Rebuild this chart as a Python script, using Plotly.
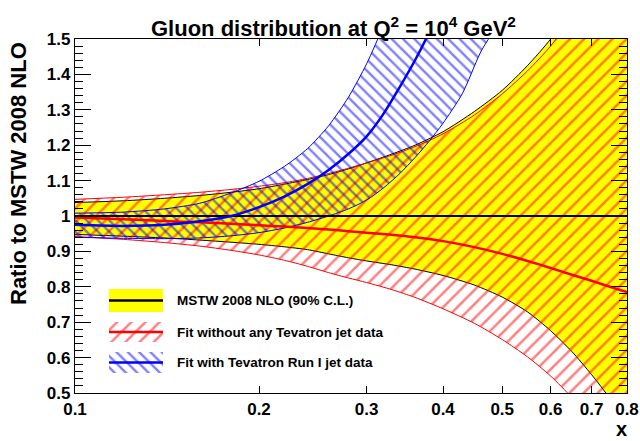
import plotly.graph_objects as go

# ---------------- data ----------------
x_grid = [0.10, 0.12, 0.14, 0.16, 0.18, 0.20, 0.22, 0.24, 0.26, 0.28, 0.30,
          0.33, 0.36, 0.40, 0.45, 0.50, 0.55, 0.60, 0.65, 0.70, 0.75, 0.80]

mstw_central = [1.0] * len(x_grid)
mstw_upper = [1.038, 1.043, 1.050, 1.058, 1.067, 1.077, 1.090, 1.103, 1.117, 1.133, 1.150,
              1.175, 1.200, 1.238, 1.295, 1.355, 1.425, 1.500, 1.590, 1.700, 1.820, 1.960]
mstw_lower = [0.948, 0.943, 0.938, 0.932, 0.926, 0.920, 0.913, 0.905, 0.893, 0.882, 0.873,
              0.862, 0.850, 0.832, 0.805, 0.771, 0.729, 0.676, 0.617, 0.552, 0.485, 0.415]

nojet_upper = [1.047, 1.053, 1.060, 1.067, 1.075, 1.084, 1.094, 1.106, 1.120, 1.135, 1.150,
               1.172, 1.196, 1.232, 1.285, 1.345, 1.410, 1.480, 1.565, 1.660, 1.770, 1.890]
nojet_central = [0.996, 0.991, 0.986, 0.982, 0.978, 0.974, 0.970, 0.966, 0.962, 0.957, 0.953,
                 0.947, 0.940, 0.929, 0.912, 0.893, 0.873, 0.853, 0.834, 0.817, 0.800, 0.785]
nojet_lower = [0.942, 0.934, 0.925, 0.915, 0.903, 0.890, 0.875, 0.858, 0.840, 0.825, 0.812,
               0.792, 0.770, 0.738, 0.697, 0.651, 0.602, 0.548, 0.487, 0.420, 0.345, 0.260]

run1_x = [0.10, 0.12, 0.14, 0.16, 0.18, 0.20, 0.22, 0.24, 0.26, 0.28, 0.30,
          0.32, 0.34, 0.36, 0.38, 0.40, 0.43, 0.46, 0.50]
run1_upper = [1.008, 1.011, 1.020, 1.036, 1.065, 1.098, 1.140, 1.190, 1.255, 1.335, 1.430,
              1.540, 1.660, 1.790, 1.930, 2.080, 2.300, 2.550, 2.900]
run1_central = [0.975, 0.972, 0.975, 0.985, 1.000, 1.025, 1.055, 1.090, 1.130, 1.175, 1.225,
                1.290, 1.365, 1.440, 1.520, 1.610, 1.750, 1.900, 2.100]
run1_lower = [0.940, 0.937, 0.936, 0.938, 0.944, 0.953, 0.966, 0.982, 1.000, 1.020, 1.045,
              1.080, 1.120, 1.165, 1.212, 1.262, 1.345, 1.460, 1.580]

x_ticks = [0.1, 0.2, 0.3, 0.4, 0.5, 0.6, 0.7, 0.8]
x_tick_labels = ["0.1", "0.2", "0.3", "0.4", "0.5", "0.6", "0.7", "0.8"]
y_ticks = [0.5, 0.6, 0.7, 0.8, 0.9, 1.0, 1.1, 1.2, 1.3, 1.4, 1.5]
y_tick_labels = ["0.5", "0.6", "0.7", "0.8", "0.9", "1", "1.1", "1.2", "1.3", "1.4", "1.5"]

legend_labels = ["MSTW 2008 NLO (90% C.L.)",
                 "Fit without any Tevatron jet data",
                 "Fit with Tevatron Run I jet data"]

# ---------------- styles ----------------
FONT = "Liberation Sans, Arial, Helvetica, sans-serif"
YELLOW = "#ffff00"
RED = "#ff0000"
BLUE = "#0000ff"
CLEAR = "rgba(0,0,0,0)"
RED_HATCH = dict(shape="/", fgcolor=RED, bgcolor=CLEAR, size=10, solidity=0.25)
BLUE_HATCH = dict(shape="\\", fgcolor=BLUE, bgcolor=CLEAR, size=8, solidity=0.3)

W, H = 640, 441
ML, MR, MT, MB = 75, 13, 39, 48
PW, PH = W - ML - MR, H - MT - MB


def px(xp):
    return (xp - ML) / PW


def py(yp):
    return (H - MB - yp) / PH


def band(xs, up, lo):
    return list(xs) + list(xs)[::-1], list(up) + list(lo)[::-1]


SPL = dict(shape="spline", smoothing=0.7)

fig = go.Figure()

bx, by = band(x_grid, mstw_upper, mstw_lower)
fig.add_trace(go.Scatter(x=bx, y=by, mode="lines", fill="toself", fillcolor=YELLOW,
                         line=dict(color="black", width=1, **SPL), hoverinfo="skip"))

bx, by = band(x_grid, nojet_upper, nojet_lower)
fig.add_trace(go.Scatter(x=bx, y=by, mode="lines", fill="toself", fillcolor=CLEAR,
                         fillpattern=RED_HATCH,
                         line=dict(color=RED, width=1, **SPL), hoverinfo="skip"))

bx, by = band(run1_x, run1_upper, run1_lower)
fig.add_trace(go.Scatter(x=bx, y=by, mode="lines", fill="toself", fillcolor=CLEAR,
                         fillpattern=BLUE_HATCH,
                         line=dict(color=BLUE, width=1, **SPL), hoverinfo="skip"))

fig.add_trace(go.Scatter(x=x_grid, y=mstw_central, mode="lines",
                         line=dict(color="black", width=2)))
fig.add_trace(go.Scatter(x=x_grid, y=nojet_central, mode="lines",
                         line=dict(color=RED, width=2.5, **SPL)))
fig.add_trace(go.Scatter(x=run1_x, y=run1_central, mode="lines",
                         line=dict(color=BLUE, width=2.5, **SPL)))

# ---------------- legend (drawn on a pixel-like overlay axis) ----------------
L_X0, L_X1 = 109, 163
rows = [(289, 312), (322, 342), (352, 373)]
fills = [dict(fillcolor=YELLOW), dict(fillcolor=CLEAR, fillpattern=RED_HATCH),
         dict(fillcolor=CLEAR, fillpattern=BLUE_HATCH)]
for (r0, r1), fk in zip(rows, fills):
    fig.add_trace(go.Scatter(x=[L_X0, L_X1, L_X1, L_X0, L_X0], y=[r0, r0, r1, r1, r0],
                             mode="lines", fill="toself", line=dict(width=0, color=CLEAR),
                             xaxis="x2", yaxis="y2", **fk))
for (r0, r1), col in zip(rows, ["black", RED, BLUE]):
    ym = (r0 + r1) / 2
    fig.add_trace(go.Scatter(x=[L_X0, L_X1], y=[ym, ym], mode="lines",
                             line=dict(color=col, width=2.5), xaxis="x2", yaxis="y2"))

annotations = []
for (r0, r1), txt in zip(rows, legend_labels):
    ym = (r0 + r1) / 2
    annotations.append(dict(x=px(175), y=py(ym), xref="paper", yref="paper", text=txt,
                            showarrow=False, xanchor="left", yanchor="middle",
                            font=dict(family=FONT, size=13.5, color="black", weight="bold")))

annotations.append(dict(x=px(333), y=py(27), xref="paper", yref="paper",
                        text="Gluon distribution at Q<sup>2</sup> = 10<sup>4</sup> GeV<sup>2</sup>",
                        showarrow=False, xanchor="center", yanchor="middle",
                        font=dict(family=FONT, size=22, color="black", weight="bold")))
annotations.append(dict(x=px(18), y=py(174), xref="paper", yref="paper",
                        text="Ratio to MSTW 2008 NLO",
                        textangle=-90, showarrow=False, xanchor="center", yanchor="middle",
                        font=dict(family=FONT, size=22, color="black", weight="bold")))
annotations.append(dict(x=px(621), y=py(442), xref="paper", yref="paper", text="x",
                        showarrow=False, xanchor="center", yanchor="bottom",
                        font=dict(family=FONT, size=20, color="black", weight="bold")))

tickfont = dict(family=FONT, size=17, color="black", weight="bold")

fig.update_layout(
    width=W, height=H,
    margin=dict(l=ML, r=MR, t=MT, b=MB, autoexpand=False),
    paper_bgcolor="white", plot_bgcolor="white",
    showlegend=False,
    annotations=annotations,
    xaxis=dict(type="log", range=[-1, -0.096910013], tickvals=x_ticks, ticktext=x_tick_labels,
               ticks="inside", ticklen=7, tickwidth=1, tickcolor="black",
               showline=True, linecolor="black", linewidth=1.2, mirror="ticks",
               showgrid=False, zeroline=False, tickfont=tickfont, automargin=False),
    yaxis=dict(range=[0.5, 1.5], tickvals=y_ticks, ticktext=y_tick_labels,
               ticks="inside", ticklen=16, tickwidth=1, tickcolor="black",
               minor=dict(dtick=0.02, ticks="inside", ticklen=8, tickwidth=1, tickcolor="black"),
               showline=True, linecolor="black", linewidth=1.2, mirror="ticks",
               showgrid=False, zeroline=False, tickfont=tickfont, automargin=False),
    xaxis2=dict(range=[ML, W - MR], overlaying="x", anchor="y2", visible=False),
    yaxis2=dict(range=[H - MB, MT], overlaying="y", anchor="x2", visible=False),
)

fig.write_html("out.html")
